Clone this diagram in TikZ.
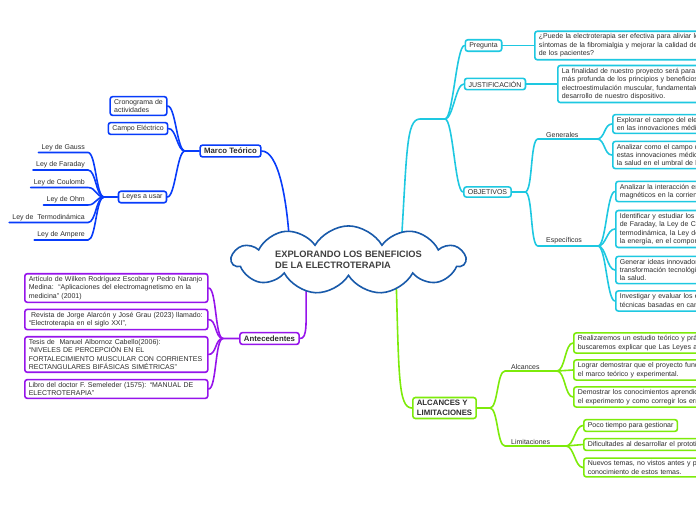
\documentclass[tikz,border=0pt]{standalone}
\usepackage{fontspec}
\setmainfont{Liberation Sans}
\usetikzlibrary{shapes.symbols}

\definecolor{mapblue}{RGB}{8,60,250}
\definecolor{mappurple}{RGB}{150,20,235}
\definecolor{mapcyan}{RGB}{30,200,225}
\definecolor{mapgreen}{RGB}{125,235,10}
\definecolor{cloudblue}{RGB}{25,90,170}
\definecolor{maptext}{RGB}{45,45,45}

\begin{document}
\begin{tikzpicture}[x=1pt, y=-1pt,
    topic/.style={draw, rounded corners=2.5pt, line width=1.6pt, fill=white,
                  inner xsep=4pt, inner ysep=2.6pt, align=left, text=maptext,
                  font=\fontsize{7}{8.4}\selectfont},
    heading/.style={topic, inner ysep=3pt, font=\bfseries\fontsize{7.8}{9.4}\selectfont},
    leaf/.style={topic, anchor=west},
    tag/.style={inner xsep=3pt, inner ysep=1.6pt, text=maptext,
                font=\fontsize{7}{8.4}\selectfont},
    link/.style={line width=1.6pt, line cap=round},
    branch/.style={to path={.. controls ([xshift=8pt]\tikztostart)
                   and ([xshift=-8pt]\tikztotarget) .. (\tikztotarget)}}
  ]
  \useasboundingbox (0,0) rectangle (696,520);
  \clip (0,0) rectangle (696,520);

  % Marco Teorico
  \node[heading, draw=mapblue] (marco) at (230.5,151) {Marco Teórico};
  \node[topic, draw=mapblue] (crono) at (138.5,106) {Cronograma de\\actividades};
  \node[topic, draw=mapblue] (campo) at (138,128.5) {Campo Eléctrico};
  \node[topic, draw=mapblue] (leyes) at (142.5,197) {Leyes a usar};
  \node[tag, anchor=south east] (gauss) at (88,152.5) {Ley de Gauss};
  \node[tag, anchor=south east] (faraday) at (88,170) {Ley de Faraday};
  \node[tag, anchor=south east] (coulomb) at (88,187.5) {Ley de Coulomb};
  \node[tag, anchor=south east] (ohm) at (88,205) {Ley de Ohm};
  \node[tag, anchor=south east] (termo) at (88,222.5) {Ley de\ \ Termodinámica};
  \node[tag, anchor=south east] (ampere) at (88,240) {Ley de Ampere};
  \coordinate (leyjoin) at (104,197);
  \coordinate (marcojoin) at (185,151);

  % Antecedentes
  \node[heading, draw=mappurple] (antec) at (269.5,338.5) {Antecedentes};
  \node[leaf, draw=mappurple, text width=175pt] (art) at (24,288)
    {Artículo de Wilken Rodríguez Escobar y Pedro Naranjo\\Medina:\ \ “Aplicaciones del electromagnetismo en la\\medicina” (2001)};
  \node[leaf, draw=mappurple, text width=175pt] (rev) at (24,319.5)
    {\ Revista de Jorge Alarcón y José Grau (2023) llamado:\\“Electroterapia en el siglo XXI”,};
  \node[leaf, draw=mappurple, text width=175pt] (tesis) at (24,354.5)
    {Tesis de\ \ Manuel Albornoz Cabello(2006):\\“NIVELES DE PERCEPCIÓN EN EL\\FORTALECIMIENTO MUSCULAR CON CORRIENTES\\RECTANGULARES BIFÁSICAS SIMÉTRICAS”};
  \node[leaf, draw=mappurple, text width=175pt] (libro) at (24,389)
    {Libro del doctor F. Semeleder (1575): “MANUAL DE\\ELECTROTERAPIA”};
  \coordinate (antjoin) at (223,338.5);

  % Pregunta, justificacion, objetivos
  \node[topic, draw=mapcyan] (preg) at (483.5,45.5) {Pregunta};
  \node[leaf, draw=mapcyan, text width=200pt] (duda) at (534,45.5)
    {¿Puede la electroterapia ser efectiva para aliviar los\\síntomas de la fibromialgia y mejorar la calidad de vida\\de los pacientes?};
  \node[topic, draw=mapcyan] (justif) at (495,84) {JUSTIFICACIÓN};
  \node[leaf, draw=mapcyan, text width=200pt] (final) at (557,84)
    {La finalidad de nuestro proyecto será para una comprensión\\más profunda de los principios y beneficios de la\\electroestimulación muscular, fundamentales para el\\desarrollo de nuestro dispositivo.};
  \node[topic, draw=mapcyan] (obj) at (487.5,192) {OBJETIVOS};
  \node[tag, anchor=south west, inner xsep=8pt] (gen) at (538,139) {Generales};
  \node[tag, anchor=south west, inner xsep=8pt] (esp) at (538,246) {Específicos};
  \node[leaf, draw=mapcyan, text width=200pt] (gen1) at (612,124)
    {Explorar el campo del electromagnetismo\\en las innovaciones médicas};
  \node[leaf, draw=mapcyan, text width=200pt] (gen2) at (612,155)
    {Analizar como el campo de la electroterapia y\\estas innovaciones médicas pueden mejorar\\la salud en el umbral de la medicina.};
  \node[leaf, draw=mapcyan, text width=200pt] (esp1) at (615,191.5)
    {Analizar la interacción entre campos eléctricos y\\magnéticos en la corriente eléctrica.};
  \node[leaf, draw=mapcyan, text width=200pt] (esp2) at (615,229)
    {Identificar y estudiar los conceptos de la Ley\\de Faraday, la Ley de Coulomb, la Ley de la\\termodinámica, la Ley de Ohm y la conservación de\\la energía, en el comportamiento del dispositivo.};
  \node[leaf, draw=mapcyan, text width=200pt] (esp3) at (615,270)
    {Generar ideas innovadoras para la\\transformación tecnológica en el área de\\la salud.};
  \node[leaf, draw=mapcyan, text width=200pt] (esp4) at (615,301)
    {Investigar y evaluar los efectos de las\\técnicas basadas en campos eléctricos.};
  \coordinate (cyanbend) at (420,119);
  \coordinate (cyanjoin) at (445,119);
  \coordinate (objjoin) at (525,192);
  \coordinate (genjoin) at (597,139);
  \coordinate (espjoin) at (598,246);

  % Alcances y limitaciones
  \node[heading, draw=mapgreen] (alcl) at (444.5,408) {ALCANCES Y\\LIMITACIONES};
  \node[tag, anchor=south west, inner xsep=6pt] (alc) at (505,371) {Alcances};
  \node[tag, anchor=south west, inner xsep=6pt] (lim) at (505,446) {Limitaciones};
  \node[leaf, draw=mapgreen, text width=200pt] (alc1) at (573,343)
    {Realizaremos un estudio teórico y práctico en el que\\buscaremos explicar que Las Leyes antes mencionadas};
  \node[leaf, draw=mapgreen, text width=200pt] (alc2) at (573,370)
    {Lograr demostrar que el proyecto funciona con\\el marco teórico y experimental.};
  \node[leaf, draw=mapgreen, text width=200pt] (alc3) at (573,397)
    {Demostrar los conocimientos aprendidos en\\el experimento y como corregir los errores.};
  \node[leaf, draw=mapgreen] (lim1) at (583,425.5) {Poco tiempo para gestionar};
  \node[leaf, draw=mapgreen, text width=200pt] (lim2) at (583,444.5)
    {Dificultades al desarrollar el prototipo};
  \node[leaf, draw=mapgreen, text width=200pt] (lim3) at (583,467.5)
    {Nuevos temas, no vistos antes y poco\\conocimiento de estos temas.};
  \coordinate (greenjoin) at (490,408);
  \coordinate (alcjoin) at (557,371);
  \coordinate (limjoin) at (566,446);

  % puntos de entrada a la nube
  \coordinate (ideablue) at (290,250);
  \coordinate (ideacyan) at (401,248);
  \coordinate (ideapurple) at (306,275);
  \coordinate (ideagreen) at (396,275);

  % Conexiones azules
  \draw[link, mapblue] (marco.east) .. controls +(16,0) and +(-3,-55) .. (ideablue);
  \draw[link, mapblue] (crono.east) to[branch] (marcojoin);
  \draw[link, mapblue] (campo.east) to[branch] (marcojoin);
  \draw[link, mapblue] (leyes.east) to[branch] (marcojoin) -- (marco.west);
  \draw[link, mapblue] (gauss.south west) -- (gauss.south east) to[branch] (leyjoin);
  \draw[link, mapblue] (faraday.south west) -- (faraday.south east) to[branch] (leyjoin);
  \draw[link, mapblue] (coulomb.south west) -- (coulomb.south east) to[branch] (leyjoin);
  \draw[link, mapblue] (ohm.south west) -- (ohm.south east) to[branch] (leyjoin);
  \draw[link, mapblue] (termo.south west) -- (termo.south east) to[branch] (leyjoin);
  \draw[link, mapblue] (ampere.south west) -- (ampere.south east) to[branch] (leyjoin) -- (leyes.west);

  % Conexiones moradas
  \draw[link, mappurple] (ideapurple) .. controls +(0,50) and +(8,0) .. (antec.east);
  \draw[link, mappurple] (art.east) to[branch] (antjoin);
  \draw[link, mappurple] (rev.east) to[branch] (antjoin);
  \draw[link, mappurple] (tesis.east) to[branch] (antjoin);
  \draw[link, mappurple] (libro.east) to[branch] (antjoin) -- (antec.west);

  % Conexiones cian
  \draw[link, mapcyan] (ideacyan) .. controls +(6,-95) and +(-14,0) .. (cyanbend) -- (cyanjoin);
  \draw[link, mapcyan] (cyanjoin) to[branch] (preg.west);
  \draw[link, mapcyan] (cyanjoin) to[branch] (justif.west);
  \draw[link, mapcyan] (cyanjoin) to[branch] (obj.west);
  \draw[link, mapcyan] (preg.east) -- (duda.west);
  \draw[link, mapcyan] (justif.east) -- (final.west);
  \draw[link, mapcyan] (obj.east) -- (objjoin) to[branch] (gen.south west) -- (genjoin);
  \draw[link, mapcyan] (objjoin) to[branch] (esp.south west) -- (espjoin);
  \draw[link, mapcyan] (genjoin) to[branch] (gen1.west);
  \draw[link, mapcyan] (genjoin) to[branch] (gen2.west);
  \draw[link, mapcyan] (espjoin) to[branch] (esp1.west);
  \draw[link, mapcyan] (espjoin) to[branch] (esp2.west);
  \draw[link, mapcyan] (espjoin) to[branch] (esp3.west);
  \draw[link, mapcyan] (espjoin) to[branch] (esp4.west);

  % Conexiones verdes
  \draw[link, mapgreen] (ideagreen) .. controls +(3,100) and +(-14,0) .. (alcl.west);
  \draw[link, mapgreen] (alcl.east) -- (greenjoin) to[branch] (alc.south west) -- (alcjoin);
  \draw[link, mapgreen] (greenjoin) to[branch] (lim.south west) -- (limjoin);
  \draw[link, mapgreen] (alcjoin) to[branch] (alc1.west);
  \draw[link, mapgreen] (alcjoin) to[branch] (alc2.west);
  \draw[link, mapgreen] (alcjoin) to[branch] (alc3.west);
  \draw[link, mapgreen] (limjoin) to[branch] (lim1.west);
  \draw[link, mapgreen] (limjoin) to[branch] (lim2.west);
  \draw[link, mapgreen] (limjoin) to[branch] (lim3.west);

  % Idea central
  \node[cloud, cloud puffs=11, cloud puff arc=120, cloud ignores aspect, draw=cloudblue,
        line width=1.6pt, fill=white, minimum width=233pt, minimum height=58pt,
        align=left, text=black!75, font=\bfseries\fontsize{9.3}{11}\selectfont]
        (idea) at (348.5,260) {EXPLORANDO LOS BENEFICIOS\\DE LA ELECTROTERAPIA};
\end{tikzpicture}
\end{document}
